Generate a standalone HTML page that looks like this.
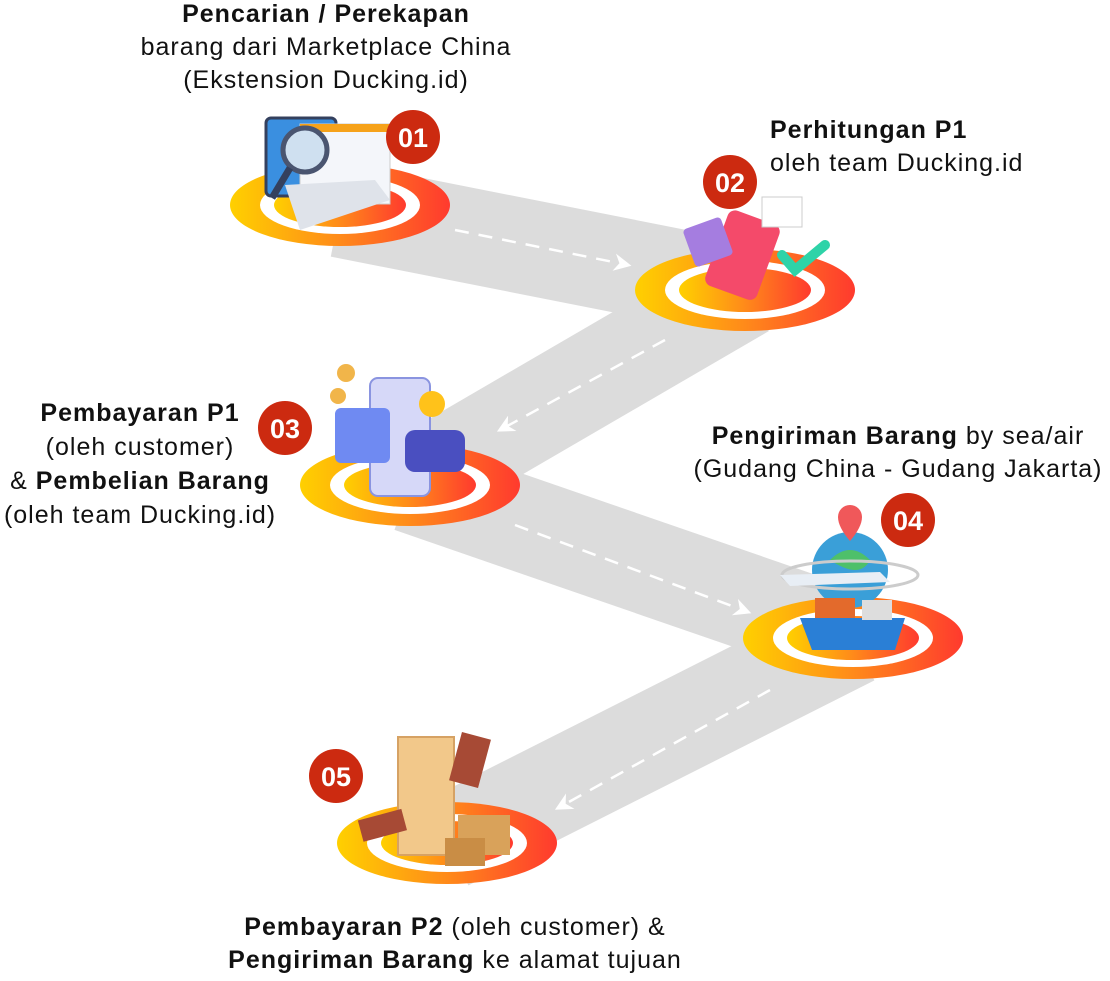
<!DOCTYPE html>
<html><head><meta charset="utf-8"><style>
body{margin:0;background:#fff;width:1110px;height:981px;overflow:hidden;font-family:"Liberation Sans",sans-serif;}
.t{position:absolute;font-size:25px;line-height:33px;letter-spacing:1px;color:#111;text-align:center;white-space:nowrap}
b{font-weight:700}
</style></head><body>
<svg width="1110" height="981" style="position:absolute;left:0;top:0">
<defs>
<linearGradient id="g" x1="0" x2="1"><stop offset="0" stop-color="#ffd000"/><stop offset=".5" stop-color="#ff8a1a"/><stop offset="1" stop-color="#ff3a2e"/></linearGradient>
<g id="plat"><ellipse rx="110" ry="41" fill="url(#g)"/><ellipse rx="80" ry="29" fill="#fff"/><ellipse rx="66" ry="22" fill="url(#g)"/></g>
<marker id="ar" viewBox="0 0 10 10" refX="8" refY="5" markerWidth="7" markerHeight="7" orient="auto"><path d="M0,0 L10,5 L0,10 L3,5z" fill="#fff"/></marker>
</defs>
<g stroke="#dcdcdc" stroke-width="95" stroke-linecap="butt">
<line x1="340" y1="210" x2="745" y2="290"/>
<line x1="745" y1="290" x2="410" y2="485"/>
<line x1="410" y1="485" x2="853" y2="638"/>
<line x1="853" y1="638" x2="447" y2="843"/>
</g>
<g stroke="#fff" stroke-width="2.5" stroke-dasharray="14 10" fill="none" marker-end="url(#ar)">
<line x1="455" y1="230" x2="628" y2="265"/>
<line x1="665" y1="340" x2="500" y2="430"/>
<line x1="515" y1="525" x2="748" y2="612"/>
<line x1="770" y1="690" x2="558" y2="808"/>
</g>
<use href="#plat" x="340" y="205"/>
<use href="#plat" x="745" y="290"/>
<use href="#plat" x="410" y="485"/>
<use href="#plat" x="853" y="638"/>
<use href="#plat" x="447" y="843"/>
<rect x="266" y="118" width="70" height="78" rx="5" fill="#3a8fe0" stroke="#34405e" stroke-width="3"/>
<rect x="300" y="124" width="90" height="80" fill="#f4f6fa" stroke="#ccc"/><rect x="300" y="124" width="90" height="8" fill="#f6a21a"/>
<polygon points="285,185 375,180 390,200 300,230" fill="#dfe3ea"/>
<circle cx="305" cy="150" r="22" fill="#cfe0f0" stroke="#4a5570" stroke-width="5"/><line x1="290" y1="168" x2="272" y2="198" stroke="#34405e" stroke-width="7"/>
<rect x="715" y="215" width="55" height="80" rx="8" fill="#f44a6a" transform="rotate(20 742 255)"/>
<rect x="688" y="222" width="40" height="40" rx="4" fill="#a57de0" transform="rotate(-20 708 242)"/>
<rect x="762" y="197" width="40" height="30" fill="#fff" stroke="#ccc"/>
<path d="M782 255 L795 270 L825 245" stroke="#2ed3a8" stroke-width="10" fill="none" stroke-linecap="round"/>
<rect x="370" y="378" width="60" height="118" rx="8" fill="#d6d8f8" stroke="#8a94e0" stroke-width="2"/>
<rect x="335" y="408" width="55" height="55" rx="6" fill="#6f8af2"/>
<rect x="405" y="430" width="60" height="42" rx="10" fill="#4a4fc0"/>
<circle cx="432" cy="404" r="13" fill="#ffc21a"/><circle cx="346" cy="373" r="9" fill="#f1b54a"/><circle cx="338" cy="396" r="8" fill="#f1b54a"/>
<circle cx="850" cy="570" r="38" fill="#3a9fd8"/><path d="M830 560 q20 -20 40 0 q-10 20 -40 0z" fill="#4ec06a"/>
<ellipse cx="850" cy="575" rx="68" ry="14" fill="none" stroke="#ccc" stroke-width="3"/>
<path d="M850 505 a12 12 0 0 1 12 12 q0 10 -12 24 q-12 -14 -12 -24 a12 12 0 0 1 12 -12z" fill="#f0585a"/>
<polygon points="800,618 905,618 895,650 812,650" fill="#2a7fd6"/><rect x="815" y="598" width="40" height="20" fill="#e36a2c"/><rect x="862" y="600" width="30" height="20" fill="#ddd"/>
<path d="M780 575 L880 572 L890 582 L790 586z" fill="#e8eef5"/>
<rect x="398" y="737" width="56" height="118" fill="#f2c88a" stroke="#d6a264" stroke-width="2"/>
<rect x="455" y="735" width="30" height="50" fill="#a74a35" transform="rotate(15 470 760)"/>
<rect x="360" y="815" width="45" height="22" fill="#a74a35" transform="rotate(-15 380 826)"/>
<rect x="458" y="815" width="52" height="40" fill="#d9a25a"/><rect x="445" y="838" width="40" height="28" fill="#c98d45"/>
<g font-family="Liberation Sans,sans-serif" font-weight="700" font-size="27" fill="#fff" text-anchor="middle">
<circle cx="413" cy="137" r="27" fill="#cc2a10"/><text x="413" y="147">01</text>
<circle cx="730" cy="182" r="27" fill="#cc2a10"/><text x="730" y="192">02</text>
<circle cx="285" cy="428" r="27" fill="#cc2a10"/><text x="285" y="438">03</text>
<circle cx="908" cy="520" r="27" fill="#cc2a10"/><text x="908" y="530">04</text>
<circle cx="336" cy="776" r="27" fill="#cc2a10"/><text x="336" y="786">05</text>
</g>
</svg>
<div class="t" style="left:76px;top:-2px;width:500px"><b>Pencarian / Perekapan</b><br>barang dari Marketplace China<br>(Ekstension Ducking.id)</div>
<div class="t" style="left:770px;top:114px;text-align:left"><b>Perhitungan P1</b><br>oleh team Ducking.id</div>
<div class="t" style="left:-10px;top:396px;width:300px;line-height:34px"><b>Pembayaran P1</b><br>(oleh customer)<br>&amp; <b>Pembelian Barang</b><br>(oleh team Ducking.id)</div>
<div class="t" style="left:660px;top:420px;width:476px"><b>Pengiriman Barang</b> by sea/air<br>(Gudang China - Gudang Jakarta)</div>
<div class="t" style="left:180px;top:911px;width:550px"><b>Pembayaran P2</b> (oleh customer) &amp;<br><b>Pengiriman Barang</b> ke alamat tujuan</div>
</body></html>
